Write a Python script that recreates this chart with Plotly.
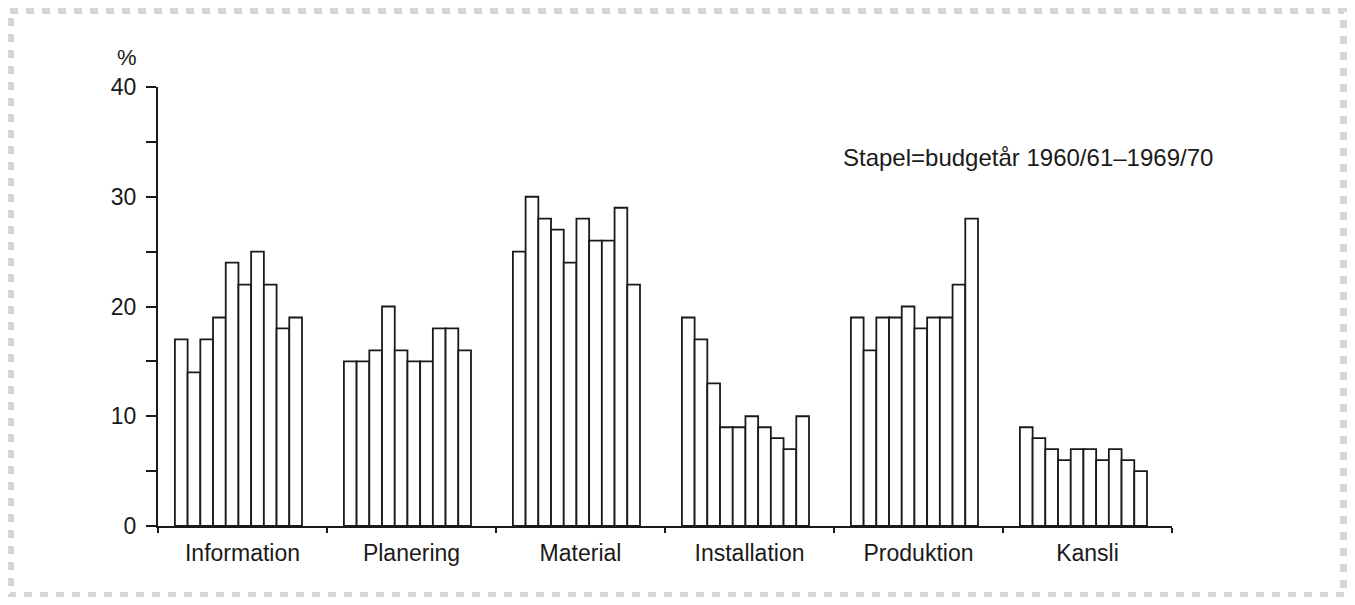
import plotly.graph_objects as go

categories = ["Information", "Planering", "Material", "Installation", "Produktion", "Kansli"]
years = ["1960/61", "1961/62", "1962/63", "1963/64", "1964/65",
         "1965/66", "1966/67", "1967/68", "1968/69", "1969/70"]

information = [17, 14, 17, 19, 24, 22, 25, 22, 18, 19]
planering = [15, 15, 16, 20, 16, 15, 15, 18, 18, 16]
material = [25, 30, 28, 27, 24, 28, 26, 26, 29, 22]
installation = [19, 17, 13, 9, 9, 10, 9, 8, 7, 10]
produktion = [19, 16, 19, 19, 20, 18, 19, 19, 22, 28]
kansli = [9, 8, 7, 6, 7, 7, 6, 7, 6, 5]

series = [information, planering, material, installation, produktion, kansli]

y_ticks = [0, 10, 20, 30, 40]
note_text = "Stapel=budgetår 1960/61–1969/70"
unit_text = "%"

FONT = "Liberation Sans, Arial, Helvetica, sans-serif"
OFF = 8  # page body margin
W, H = 1355 - 2 * OFF, 605 - 2 * OFF
# target page pixel positions of plot area
PL, PR, PT, PB = 158, 1172, 87, 526
L, T = PL - OFF, PT - OFF
R = W - (PR - OFF)
B = H - (PB - OFF)
pw, ph = PR - PL, PB - PT

def px(xp):
    return (xp - PL) / pw

def py(yp):
    return (PB - yp) / ph

bar_w = 0.0752
shift = -0.024
n = len(years)

fig = go.Figure()
for j, yr in enumerate(years):
    fig.add_trace(go.Bar(
        x=categories,
        y=[s[j] for s in series],
        name=yr,
        width=bar_w,
        offset=shift - n * bar_w / 2 + j * bar_w,
        marker=dict(color="white", line=dict(color="#1a1a1a", width=1.8)),
        showlegend=False,
    ))

fig.update_layout(
    width=W, height=H,
    margin=dict(l=L, r=R, t=T, b=B, autoexpand=False),
    paper_bgcolor="white", plot_bgcolor="white",
    barmode="overlay",
    font=dict(family=FONT, size=23, color="#1a1a1a"),
    xaxis=dict(
        type="category", range=[-0.5, 5.5],
        tickson="boundaries", ticks="outside", ticklen=5, tickwidth=1.5,
        tickcolor="#1a1a1a",
        showline=True, linecolor="#1a1a1a", linewidth=2,
        showgrid=False, zeroline=False,
        tickfont=dict(size=23), ticklabelstandoff=5,
    ),
    yaxis=dict(
        range=[0, 40], tickvals=y_ticks, ticks="outside", ticklen=10, tickwidth=1.5,
        tickcolor="#1a1a1a",
        minor=dict(dtick=5, ticks="outside", ticklen=10, tickwidth=1.5, tickcolor="#1a1a1a",
                   showgrid=False),
        showline=True, linecolor="#1a1a1a", linewidth=2,
        showgrid=False, zeroline=False,
        tickfont=dict(size=23), ticklabelstandoff=5,
    ),
    annotations=[
        dict(text=note_text, xref="paper", yref="paper", x=px(841), y=py(157),
             xanchor="left", yanchor="middle", showarrow=False,
             font=dict(size=24, family=FONT, color="#1a1a1a")),
        dict(text=unit_text, xref="paper", yref="paper", x=px(127), y=py(58),
             xanchor="center", yanchor="middle", showarrow=False,
             font=dict(size=22, family=FONT, color="#1a1a1a")),
    ],
    shapes=[
        dict(type="rect", xref="paper", yref="paper",
             x0=px(10), x1=px(1344), y0=py(10), y1=py(596),
             line=dict(color="#d6d6d6", width=8, dash="dot"), layer="below"),
    ],
)

fig.write_html("out.html")
